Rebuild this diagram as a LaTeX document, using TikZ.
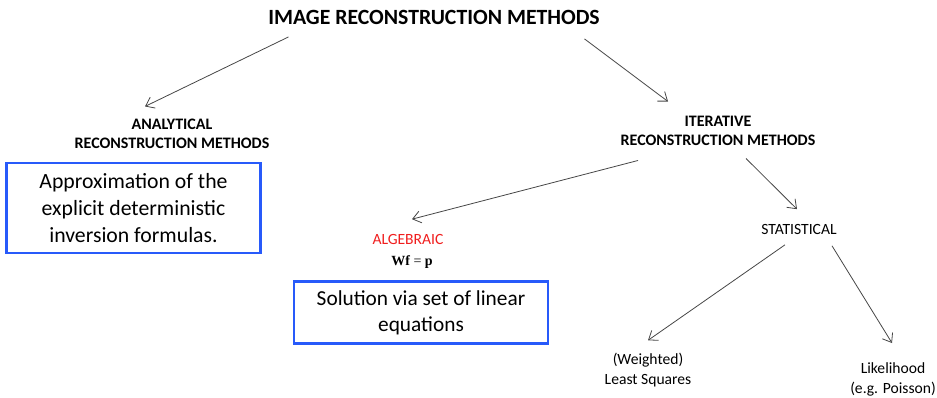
\documentclass[tikz,border=0pt]{standalone}
\usepackage{fontspec}
\setmainfont{Carlito}
\newfontfamily\eqnfont{Liberation Serif}
\usepackage{tikz}
\usetikzlibrary{arrows.meta}
\usetikzlibrary{calc}
\definecolor{boxblue}{RGB}{40,90,250}
\definecolor{algred}{RGB}{240,30,30}
\definecolor{linegray}{RGB}{70,70,70}
\tikzset{
heading/.style={font=\bfseries\fontsize{16.3}{19}\selectfont},
subhead/.style={font=\bfseries\fontsize{12}{14.3}\selectfont, align=center},
plainlabel/.style={font=\fontsize{11.7}{15}\selectfont, align=center},
bluebox/.style={draw=boxblue, line width=2.2pt, align=center, inner sep=0pt},
link/.style={draw=linegray, line width=0.6pt, -{Straight Barb[length=6pt,width=9pt]}}
}

\begin{document}
\begin{tikzpicture}[x=0.75pt,y=-0.75pt]
\useasboundingbox (0,0) rectangle (937,398);

%%% Top level
\node[heading] (imgrec) at (434,17) {IMAGE RECONSTRUCTION METHODS};

%%% Analytical branch
\node[subhead] (analytic) at (172,134) {ANALYTICAL\\ RECONSTRUCTION METHODS};
\node[bluebox, minimum width=190pt, minimum height=67.5pt,
font=\fontsize{16.3}{20}\selectfont] (approx) at (133.5,208) {Approximation of the\\ explicit deterministic\\ inversion formulas.};

%%% Iterative branch
\node[subhead] (iterative) at (718,131) {ITERATIVE\\ RECONSTRUCTION METHODS};

\begin{scope}[every node/.style={plainlabel}]
\node[text=algred] (algebraic) at (408,239) {ALGEBRAIC};
\node[font=\eqnfont\fontsize{10.5}{12}\selectfont] (wfp) at (412,262) {\textbf{Wf} = \textbf{p}};
\node (statistical) at (799,229) {STATISTICAL};
\node (leastsq) at (648,370) {(Weighted)\\ Least Squares};
\node (likelihood) at (893,379.5) {Likelihood\\ (e.g. Poisson)};
\end{scope}

\node[bluebox, minimum width=190.5pt, minimum height=47pt,
font=\fontsize{16}{19.5}\selectfont] (linear) at (421,312.5) {Solution via set of linear\\ equations};

%%% Arrows
\draw[link] ($(imgrec.south west)+(25,8)$) -- ($(analytic.north)+(-27,-8)$);
\draw[link] ($(imgrec.south east)+(-20,10)$) -- ($(iterative.north)+(-50,-10)$);
\draw[link] ($(iterative.south)+(-80,10)$) -- ($(algebraic.north)+(4,-10)$);
\draw[link] ($(iterative.south)+(28,8)$) -- ($(statistical.north)+(-2,-10)$);
\draw[link] ($(statistical.south)+(-14,6)$) -- ($(leastsq.north)+(0,-8)$);
\draw[link] ($(statistical.south)+(33,7)$) -- ($(likelihood.north)+(-1,-15)$);

\end{tikzpicture}
\end{document}
